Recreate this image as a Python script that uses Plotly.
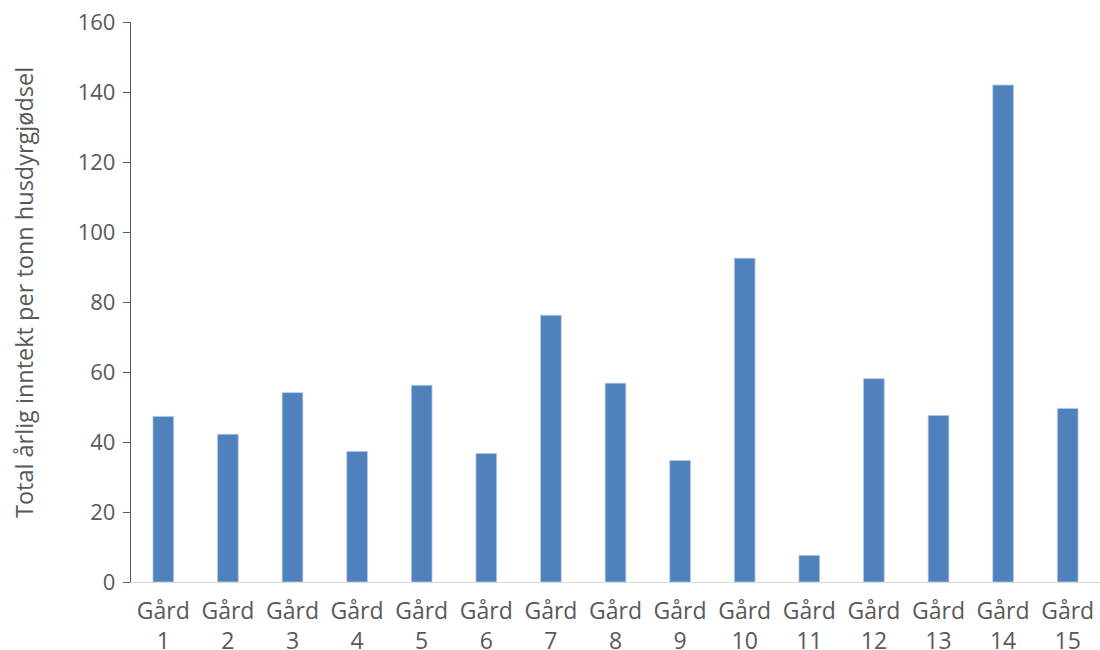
import plotly.graph_objects as go

categories = [f"Gård<br>{i}" for i in range(1, 16)]
values = [47.3, 42.2, 54.1, 37.3, 56.2, 36.7, 76.2, 56.8, 34.7, 92.5, 7.6, 58.1, 47.6, 142.0, 49.6]
y_ticks = [0, 20, 40, 60, 80, 100, 120, 140, 160]
y_title = "Total årlig inntekt per tonn husdyrgjødsel"

text_color = "#595959"
font_family = "'Open Sans', sans-serif"

fig = go.Figure(
    go.Bar(
        x=categories,
        y=values,
        width=0.32,
        marker=dict(color="#4f81bd", line=dict(color="#b4c7e7", width=0.8)),
    )
)

fig.update_layout(
    width=1100,
    height=650,
    margin=dict(l=131, r=0, t=22, b=68, autoexpand=False),
    paper_bgcolor="white",
    plot_bgcolor="white",
    showlegend=False,
    font=dict(family=font_family, size=23, color=text_color),
)

fig.update_xaxes(
    showline=True,
    linecolor="#d9d9d9",
    linewidth=1,
    ticks="",
    showgrid=False,
    tickfont=dict(size=23, color=text_color),
    range=[-0.5, 14.5],
    ticklabelstandoff=8,
    automargin=False,
)

fig.update_yaxes(
    range=[0, 160],
    tickvals=y_ticks,
    showline=True,
    linecolor=text_color,
    linewidth=1.3,
    ticks="outside",
    ticklen=7,
    tickcolor=text_color,
    tickwidth=1.3,
    showgrid=False,
    zeroline=False,
    tickfont=dict(size=22, color=text_color),
    ticklabelstandoff=3,
    automargin=False,
)

fig.add_annotation(
    text=y_title,
    xref="paper",
    yref="paper",
    x=(24 - 131) / 969,
    y=(582 - 293) / 560,
    xanchor="center",
    yanchor="middle",
    textangle=-90,
    showarrow=False,
    font=dict(size=23.5, color=text_color, family=font_family),
)

fig.write_html("out.html")
